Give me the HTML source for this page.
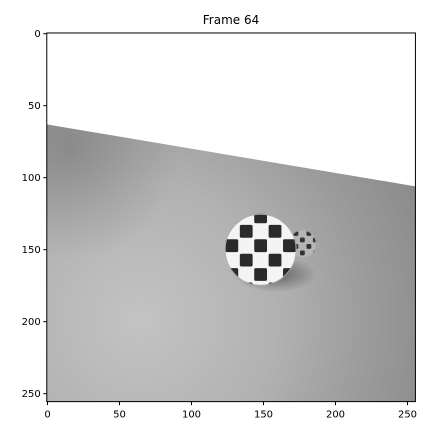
<!DOCTYPE html>
<html><head><meta charset="utf-8"><style>
body{margin:0;background:#fff}
svg text{font-family:"DejaVu Sans","Liberation Sans",sans-serif;fill:#000}
</style></head><body>
<svg id="c" width="430" height="435">
<defs>
<radialGradient id="floorG" gradientUnits="userSpaceOnUse" cx="140" cy="320" r="300">
<stop offset="0" stop-color="#c3c3c3"/><stop offset="0.45" stop-color="#b2b2b2"/><stop offset="0.75" stop-color="#9c9c9c"/><stop offset="1" stop-color="#8c8c8c"/>
</radialGradient>
<radialGradient id="darkG" gradientUnits="userSpaceOnUse" cx="70" cy="150" r="110">
<stop offset="0" stop-color="#6a6a6a" stop-opacity="0.45"/><stop offset="1" stop-color="#6a6a6a" stop-opacity="0"/>
</radialGradient>
<radialGradient id="shadowG"><stop offset="0" stop-color="#444" stop-opacity="0.75"/><stop offset="1" stop-color="#444" stop-opacity="0"/></radialGradient>
<clipPath id="ballClip"><circle id="bc" cx="0" cy="0" r="0"/></clipPath>
<clipPath id="smallClip"><circle id="sc" cx="0" cy="0" r="0"/></clipPath>
<clipPath id="floorClip"><polygon id="fc" points="0,0"/></clipPath>
</defs>
<text x="231" y="24" text-anchor="middle" font-size="12">Frame 64</text>
<g id="plot"></g>
</svg>
<script>
const xTicks=[0,50,100,150,200,250];
const yTicks=[0,50,100,150,200,250];
const horizonY=[63,106];
const ball=[148,150,25];
const smallBall=[177,146,10];
const X=v=>47.5+v*1.44, Y=v=>33.7+v*1.44;
const NS='http://www.w3.org/2000/svg';
const g=document.getElementById('plot');
function mk(t,a,p){const e=document.createElementNS(NS,t);for(const k in a)e.setAttribute(k,a[k]);(p||g).appendChild(e);return e;}
const L=X(-0.5),R=X(255.5),T=Y(-0.5),B=Y(255.5);
const sky=mk('rect',{x:L,y:T,width:R-L,height:B-T,fill:'#fff'});


const pts=`${L},${Y(horizonY[0])} ${R},${Y(horizonY[1])} ${R},${B} ${L},${B}`;
document.getElementById('fc').setAttribute('points',pts);
const floor=mk('polygon',{points:pts,fill:'url(#floorG)'});


mk('polygon',{points:pts,fill:'url(#darkG)'});
const sh=mk('ellipse',{cx:X(ball[0]+10),cy:Y(ball[1]+17),rx:ball[2]*1.44*1.15,ry:ball[2]*1.44*0.5,fill:'url(#shadowG)'});


function checker(b,clipId,circId,name,sq,bg,dark){
  const c=document.getElementById(circId);
  c.setAttribute('cx',X(b[0]));c.setAttribute('cy',Y(b[1]));c.setAttribute('r',b[2]*1.44);
  const grp=mk('g',{'clip-path':`url(#${clipId})`});
  
  
  mk('circle',{cx:X(b[0]),cy:Y(b[1]),r:b[2]*1.44,fill:bg},grp);
  const s=sq*1.44;
  for(let i=-5;i<=5;i++)for(let j=-5;j<=5;j++){
    if((i+j+10)%2!==0)continue;
    mk('rect',{x:X(b[0])+i*s-s/2+0.8,y:Y(b[1])+j*s-s/2-4+0.8,width:s-1.6,height:s-1.6,rx:1.5,fill:dark},grp);
  }
  mk('circle',{cx:X(b[0]),cy:Y(b[1]),r:b[2]*1.44,fill:'none',stroke:'#aaa','stroke-width':2},grp);
}
checker(smallBall,'smallClip','sc','small-checker-ball',4.5,'#b5b5b5','#333');
checker(ball,'ballClip','bc','checker-ball',10,'#f4f4f4','#2a2a2a');
const fr=mk('rect',{x:L,y:T,width:R-L,height:B-T,fill:'none',stroke:'#000','stroke-width':1});


xTicks.forEach(v=>{
  mk('line',{x1:X(v),x2:X(v),y1:B,y2:B+3.5,stroke:'#000'});
  const t=mk('text',{x:X(v),y:B+16,'text-anchor':'middle','font-size':10});t.textContent=v;
  
  
});
yTicks.forEach(v=>{
  mk('line',{x1:L,x2:L-3.5,y1:Y(v),y2:Y(v),stroke:'#000'});
  const t=mk('text',{x:L-6,y:Y(v)+3.5,'text-anchor':'end','font-size':10});t.textContent=v;
  
  
});
</script>
</body></html>
